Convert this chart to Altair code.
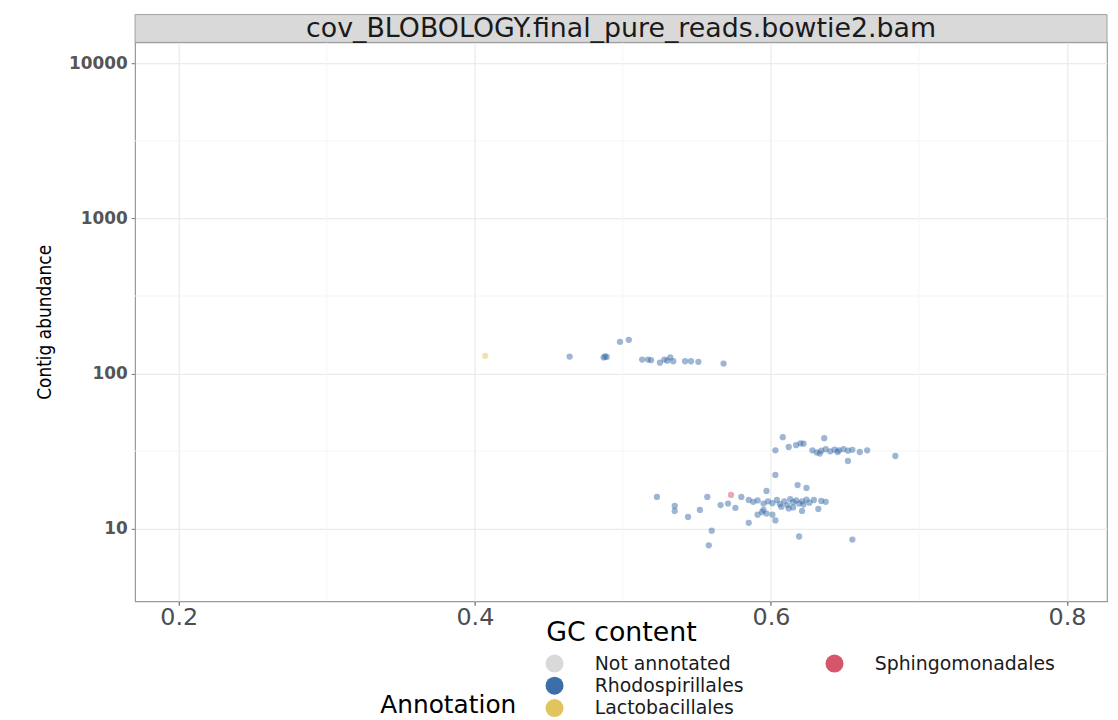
import altair as alt
import pandas as pd

panel_title = "cov_BLOBOLOGY.final_pure_reads.bowtie2.bam"
x_title = "GC content"
y_title = "Contig abundance"
legend_title = "Annotation"

x_ticks = [0.2, 0.4, 0.6, 0.8]
x_minor = [0.3, 0.5, 0.7]
y_ticks = [10, 100, 1000, 10000]
y_minor = [31.62, 316.2, 3162.3]

categories = ["Not annotated", "Rhodospirillales", "Lactobacillales", "Sphingomonadales"]
cat_colors = ["#d9d9d9", "#3c6ea9", "#e2c45e", "#d5566a"]

rhodo_gc = [
    0.464, 0.487, 0.488, 0.489, 0.498, 0.504, 0.513, 0.517, 0.519, 0.525, 0.528, 0.530, 0.532, 0.534, 0.542, 0.546, 0.551, 0.568,
    0.523, 0.535, 0.535, 0.544, 0.552, 0.557, 0.560, 0.558, 0.566, 0.571, 0.576, 0.580, 0.585, 0.588, 0.591, 0.585, 0.591, 0.595, 0.597, 0.595,
    0.608, 0.603, 0.612, 0.617, 0.620, 0.622, 0.636, 0.628, 0.631, 0.634, 0.637, 0.640, 0.643, 0.646, 0.649, 0.652, 0.655, 0.633, 0.645, 0.652, 0.660, 0.665, 0.684,
    0.603, 0.618, 0.624,
    0.598, 0.601, 0.604, 0.606, 0.609, 0.611, 0.613, 0.615, 0.617, 0.619, 0.621, 0.622, 0.624, 0.626, 0.629, 0.632, 0.637, 0.634, 0.607, 0.612, 0.615,
    0.601, 0.603, 0.621, 0.594, 0.597, 0.619, 0.655,
]
rhodo_cov = [
    128.6, 127, 129, 128, 160, 165, 123, 123, 122, 117.5, 123, 121, 127, 120, 120, 120, 119, 116,
    16, 14.0, 13.0, 11.9, 13.2, 16, 9.7, 7.8, 14.2, 14.5, 13.6, 16, 15.3, 14.9, 15.2, 10.9, 12.3, 13.2, 17.5, 14.5,
    38.9, 32, 33.6, 34.5, 35.5, 35.3, 38.3, 32, 31, 31.8, 32.5, 31.5, 32.3, 32, 32.6, 31.8, 32.2, 30.5, 31.2, 27.3, 31.2, 32, 29.4,
    22.2, 19.1, 18.3,
    15.0, 14.6, 15.3, 14.4, 15.0, 14.2, 15.5, 14.8, 15.2, 14.5, 15.0, 14.3, 15.4, 14.7, 15.3, 13.4, 14.9, 15.1, 13.8, 13.5, 13.7,
    12.3, 11.3, 13.0, 12.8, 12.5, 8.9, 8.5,
]
lacto_gc = [0.407]
lacto_cov = [130]
sphingo_gc = [0.573]
sphingo_cov = [16.5]

# legend arrangement: 3 rows x 2 columns filled column-wise, last cell empty
legend_order = categories + [" "]
color_map = dict(zip(categories, cat_colors))
color_map[" "] = "#ffffff"
legend_colors = [color_map[c] for c in legend_order]

W, H = 979, 563

pts = pd.concat([
    pd.DataFrame({"gc": rhodo_gc, "cov": rhodo_cov, "ann": "Rhodospirillales"}),
    pd.DataFrame({"gc": lacto_gc, "cov": lacto_cov, "ann": "Lactobacillales"}),
    pd.DataFrame({"gc": sphingo_gc, "cov": sphingo_cov, "ann": "Sphingomonadales"}),
], ignore_index=True)

xscale = alt.Scale(domain=[0.1705, 0.827], nice=False, zero=False)
yscale = alt.Scale(type="log", domain=[3.4, 13650], nice=False)

minor_x = alt.Chart(pd.DataFrame({"v": x_minor})).mark_rule(color="#f5f5f5", strokeWidth=1).encode(
    x=alt.X("v:Q", scale=xscale)
)
minor_y = alt.Chart(pd.DataFrame({"v": y_minor})).mark_rule(color="#f5f5f5", strokeWidth=1).encode(
    y=alt.Y("v:Q", scale=yscale)
)

points = alt.Chart(pts).mark_circle(size=40, opacity=0.5).encode(
    x=alt.X("gc:Q", scale=xscale,
            axis=alt.Axis(values=x_ticks, format=".1f", title=x_title, labelFontSize=24,
                          labelColor="#4d4d4d", labelPadding=0, tickSize=4, tickColor="#4d4d4d",
                          titleFontSize=27, titleFontWeight="normal", titleColor="#000000",
                          titleBaseline="alphabetic", titleY=39, grid=True, gridColor="#ebebeb",
                          gridWidth=1.3, domain=False)),
    y=alt.Y("cov:Q", scale=yscale,
            axis=alt.Axis(values=y_ticks, format="d", title=y_title, labelFontSize=17,
                          labelFontWeight="bold", labelColor="#555555", labelPadding=4,
                          tickSize=4, tickColor="#777777", titleFont="Liberation Sans Narrow, DejaVu Sans Condensed",
                          titleFontSize=19, titleFontWeight="normal", titleColor="#000000",
                          titleX=-91, titleBaseline="middle", grid=True, gridColor="#ebebeb",
                          gridWidth=1.3, domain=False)),
    color=alt.Color("ann:N", scale=alt.Scale(domain=legend_order, range=legend_colors),
                    legend=alt.Legend(orient="none", legendX=247, legendY=616, direction="vertical",
                                      columns=2, title=legend_title, titleOrient="left",
                                      titleAnchor="end", titleFontSize=25, titleFontWeight="normal",
                                      titleColor="#000000", titlePadding=28, labelFontSize=19,
                                      labelColor="#1a1a1a", labelOffset=31, labelBaseline="middle",
                                      labelLimit=400, symbolType="circle", symbolSize=330, symbolOpacity=1,
                                      symbolStrokeWidth=0, columnPadding=82, rowPadding=2.5, padding=0)),
)

strip_df = pd.DataFrame({"t": [panel_title]})
strip = alt.Chart(strip_df).mark_rect(fill="#d9d9d9", stroke="#a0a0a0", strokeWidth=1).encode(
    x=alt.value(0), x2=alt.value(W), y=alt.value(-28), y2=alt.value(0)
)
strip_text = alt.Chart(strip_df).mark_text(fontSize=27, color="#1a1a1a", baseline="middle", align="center").encode(
    x=alt.value(W / 2), y=alt.value(-13), text="t:N"
)

chart = alt.layer(minor_x, minor_y, points, strip, strip_text).properties(
    width=W, height=H,
    autosize=alt.AutoSizeParams(type="none"),
    padding={"left": 128, "top": 32, "right": 3, "bottom": 125},
).configure(font="DejaVu Sans").configure_view(stroke="#999999", strokeWidth=1.2)

chart.save("out.html", embed_options={"renderer": "svg", "actions": False})
